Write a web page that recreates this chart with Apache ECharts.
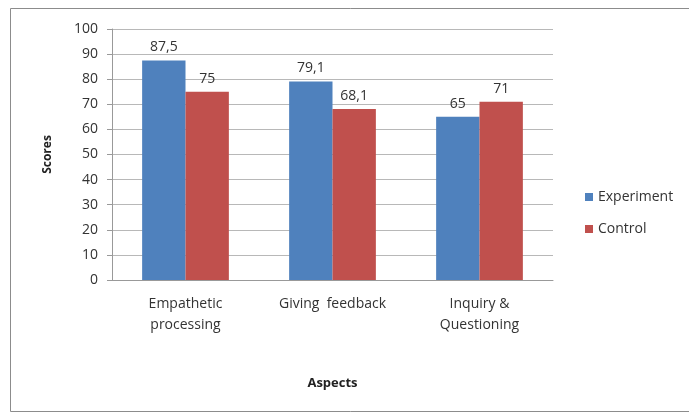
<!DOCTYPE html>
<html>
<head>
<meta charset="utf-8">
<script src="https://cdn.jsdelivr.net/npm/echarts@6/dist/echarts.min.js"></script>
<style>
  html, body { margin: 0; padding: 0; background: #fff; }
  #chart { width: 689px; height: 414px; }
</style>
</head>
<body>
<div id="chart"></div>
<script>
const categories = ['Empathetic\nprocessing', 'Giving  feedback', 'Inquiry &\nQuestioning']
const experiment = [87.5, 79.1, 65]
const control = [75, 68.1, 71]
const seriesNames = ['Experiment', 'Control']

const chart = echarts.init(document.getElementById('chart'))
const font = '"Open Sans", "Liberation Sans", sans-serif'

// decimal comma like the original
const commaLabel = p => String(p.value).replace('.', ',')

chart.setOption({
  animation: false,
  textStyle: { fontFamily: font },
  graphic: [
    {
      type: 'rect',
      shape: { x: 10.5, y: 8.5, width: 700, height: 403 },
      style: { fill: 'none', stroke: '#8c8c8c', lineWidth: 1 }
    }
  ],
  grid: { left: 112, right: 136, top: 29, bottom: 134, containLabel: false },
  legend: {
    orient: 'vertical',
    left: 580,
    top: 185,
    itemGap: 18,
    itemWidth: 8,
    itemHeight: 8,
    icon: 'rect',
    textStyle: { fontFamily: font, fontSize: 14, color: '#333' },
    data: seriesNames
  },
  xAxis: {
    type: 'category',
    data: categories,
    name: 'Aspects',
    nameLocation: 'middle',
    nameGap: 97,
    nameTextStyle: { fontFamily: font, fontSize: 13, fontWeight: 'bold', color: '#222' },
    axisLine: { lineStyle: { color: '#999' } },
    axisTick: { show: false },
    axisLabel: { fontFamily: font, fontSize: 14, color: '#333', lineHeight: 21, margin: 14, interval: 0 }
  },
  yAxis: {
    type: 'value',
    min: 0,
    max: 100,
    interval: 10,
    name: 'Scores',
    nameLocation: 'middle',
    nameGap: 58,
    nameRotate: 90,
    nameTextStyle: { fontFamily: font, fontSize: 12, fontWeight: 'bold', color: '#222' },
    axisLine: { show: true, lineStyle: { color: '#999' } },
    axisTick: { show: true, length: 5, lineStyle: { color: '#999' } },
    axisLabel: { fontFamily: font, fontSize: 14, color: '#333', margin: 14 },
    splitLine: { lineStyle: { color: '#b8b8b8' } }
  },
  series: [
    {
      name: seriesNames[0],
      type: 'bar',
      data: experiment,
      barGap: '0%',
      barCategoryGap: '41%',
      itemStyle: { color: '#4F81BD' },
      label: { show: true, position: 'top', distance: 6, fontFamily: font, fontSize: 14, color: '#333', formatter: commaLabel }
    },
    {
      name: seriesNames[1],
      type: 'bar',
      data: control,
      itemStyle: { color: '#C0504D' },
      label: { show: true, position: 'top', distance: 6, fontFamily: font, fontSize: 14, color: '#333', formatter: commaLabel }
    }
  ]
})
</script>
</body>
</html>
